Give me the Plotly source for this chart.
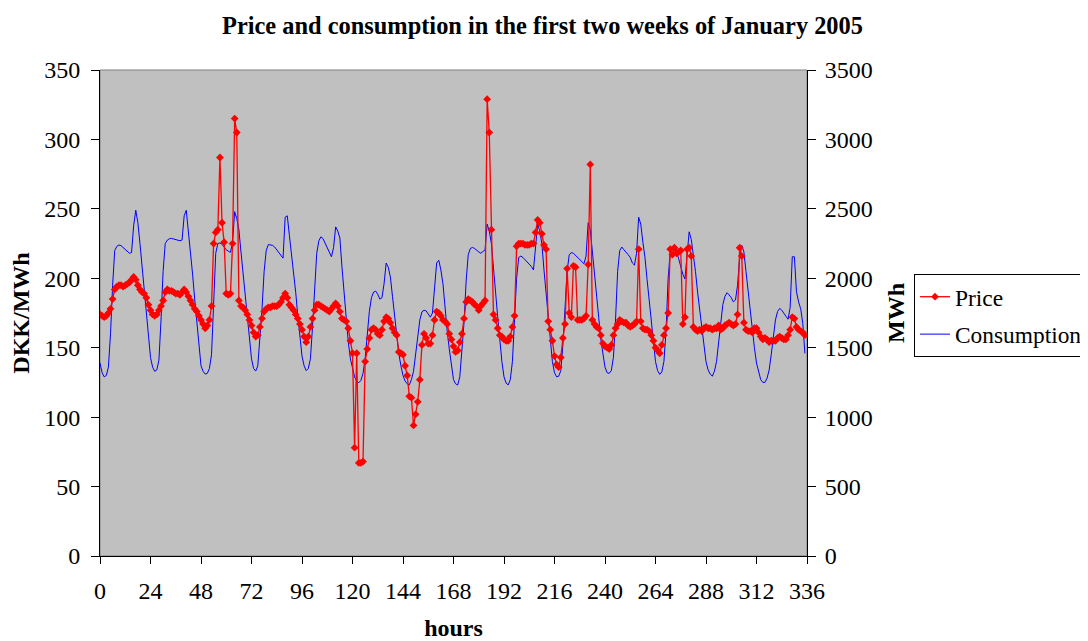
import plotly.graph_objects as go

# ---------------- data ----------------
hours = list(range(336))

price = [
    174, 173, 172, 173, 175, 178, 185, 192, 194, 195, 195, 194, 195, 196, 197, 199, 201, 199, 195, 192, 190, 189, 186, 181,
    177, 174, 173, 174, 177, 180, 184, 190, 192, 191, 191, 190, 189, 189, 188, 190, 192, 190, 187, 184, 181, 178, 176, 173,
    170, 167, 164, 166, 170, 180, 225, 233, 235, 287, 240, 226, 189, 188, 189, 225, 315, 305, 184, 180, 179, 177, 174, 170,
    166, 161, 158, 159, 165, 171, 176, 178, 179, 179, 180, 180, 180, 181, 183, 186, 189, 186, 181, 179, 177, 174, 171, 167,
    163, 158, 154, 158, 165, 171, 177, 181, 181, 180, 179, 178, 177, 176, 178, 180, 182, 180, 176, 171, 170, 169, 164, 155,
    146, 78, 146, 67, 67, 68, 140, 149, 157, 163, 164, 163, 160, 159, 163, 169, 172, 171, 168, 164, 161, 159, 147, 146,
    145, 137, 130, 115, 114, 94, 102, 111, 127, 152, 160, 157, 153, 153, 159, 170, 176, 175, 173, 170, 169, 167, 160, 156,
    151, 147, 148, 154, 160, 171, 183, 185, 184, 183, 181, 180, 177, 180, 182, 184, 329, 305, 235, 174, 170, 164, 159, 158,
    156, 155, 155, 158, 165, 173, 223, 225, 225, 225, 224, 224, 224, 225, 225, 233, 242, 240, 232, 224, 221, 169, 163, 155,
    144, 138, 136, 143, 157, 167, 207, 175, 172, 209, 208, 170, 170, 170, 171, 173, 210, 282, 170, 167, 165, 164, 159, 153,
    151, 150, 149, 152, 159, 164, 167, 170, 169, 168, 168, 166, 165, 166, 167, 169, 221, 169, 164, 163, 163, 162, 159, 155,
    150, 148, 146, 152, 159, 164, 175, 221, 217, 222, 218, 219, 220, 167, 172, 221, 222, 216, 165, 163, 162, 163, 162, 164,
    165, 164, 164, 163, 164, 164, 166, 163, 164, 166, 167, 168, 167, 166, 167, 174, 222, 216, 168, 163, 162, 162, 161, 164,
    164, 161, 158, 156, 157, 156, 154, 155, 155, 155, 157, 158, 157, 156, 156, 159, 163, 172, 171, 165, 163, 162, 161, 159,
]

consumption = [
    1390, 1320, 1290, 1300, 1360, 1600, 1950, 2200, 2230, 2240, 2235, 2220, 2205, 2190, 2180, 2185, 2380, 2490, 2400, 2250, 2080, 1900, 1730, 1560,
    1430, 1360, 1330, 1340, 1410, 1700, 2050, 2250, 2275, 2285, 2287, 2283, 2278, 2273, 2270, 2275, 2450, 2490, 2350, 2200, 2030, 1850, 1680, 1500,
    1370, 1330, 1310, 1315, 1350, 1450, 1800, 2180, 2250, 2255, 2245, 2225, 2205, 2195, 2187, 2260, 2480, 2430, 2350, 2190, 2030, 1870, 1690, 1530,
    1420, 1350, 1332, 1370, 1550, 1780, 2050, 2200, 2243, 2240, 2237, 2225, 2205, 2190, 2165, 2145, 2440, 2450, 2310, 2180, 2050, 1900, 1730, 1560,
    1440, 1370, 1335, 1350, 1420, 1650, 1915, 2180, 2270, 2299, 2285, 2255, 2225, 2190, 2155, 2220, 2370, 2340, 2290, 2080, 1880, 1700, 1540, 1420,
    1345, 1290, 1260, 1248, 1265, 1315, 1420, 1580, 1760, 1860, 1900, 1908, 1885, 1850, 1860, 1960, 2110, 2080, 2010, 1870, 1723, 1580, 1460, 1370,
    1300, 1260, 1240, 1232, 1270, 1330, 1450, 1570, 1700, 1759, 1770, 1765, 1745, 1720, 1750, 1915, 2110, 2130, 2060, 1960, 1780, 1620, 1490, 1380,
    1270, 1240, 1231, 1290, 1460, 1680, 1980, 2170, 2215, 2222, 2215, 2200, 2190, 2180, 2190, 2205, 2390, 2340, 2250, 2100, 1900, 1720, 1550, 1400,
    1290, 1245, 1232, 1270, 1400, 1675, 2000, 2150, 2160, 2150, 2135, 2115, 2100, 2085, 2060, 2200, 2390, 2340, 2250, 2060, 1890, 1720, 1540, 1400,
    1320, 1290, 1295, 1335, 1520, 1800, 2050, 2170, 2185, 2180, 2165, 2145, 2130, 2115, 2105, 2160, 2400, 2350, 2200, 2070, 1880, 1720, 1560, 1440,
    1360, 1320, 1315, 1335, 1430, 1700, 2050, 2200, 2225, 2205, 2190, 2170, 2150, 2110, 2095, 2180, 2440, 2390, 2260, 2150, 1990, 1840, 1680, 1520,
    1400, 1335, 1308, 1325, 1400, 1620, 2000, 2190, 2227, 2227, 2200, 2140, 2080, 2030, 1995, 2170, 2335, 2280, 2170, 2050, 1900, 1780, 1640, 1500,
    1400, 1340, 1310, 1295, 1330, 1400, 1530, 1700, 1810, 1870, 1896, 1880, 1860, 1830, 1843, 1950, 2150, 2237, 2190, 2050, 1900, 1760, 1620, 1500,
    1390, 1320, 1270, 1250, 1250, 1280, 1339, 1450, 1579, 1700, 1760, 1783, 1770, 1747, 1720, 1705, 1790, 2155, 2155, 1903, 1830, 1780, 1675, 1459,
]

x_ticks = [0, 24, 48, 72, 96, 120, 144, 168, 192, 216, 240, 264, 288, 312, 336]
price_ticks = [0, 50, 100, 150, 200, 250, 300, 350]
mwh_ticks = [0, 500, 1000, 1500, 2000, 2500, 3000, 3500]

TITLE = "Price and consumption in the first two weeks of January 2005"
FONT = "Liberation Serif"

# The page body has an 8 px margin, so the figure is 8 px smaller than the window.
W, H = 1080, 633
ML, MT = 92, 62
PLOT_W, PLOT_H = 707, 486

# ---------------- figure ----------------
fig = go.Figure()

# price on the overlaying (left) axis so its markers are drawn above the consumption line
fig.add_trace(go.Scatter(
    x=hours, y=price, name="Price", mode="lines+markers",
    line=dict(color="#FF0000", width=1.3),
    marker=dict(symbol="diamond", size=6, color="#FF0000"),
    yaxis="y2", legendgroup="a",
))
fig.add_trace(go.Scatter(
    x=hours, y=consumption, name="Consumption", mode="lines",
    line=dict(color="#0000FF", width=1),
    yaxis="y", legendgroup="b",
))

axis_common = dict(
    showline=True, linecolor="black", linewidth=1,
    ticks="outside", tickcolor="black", tickwidth=1,
    showgrid=False, zeroline=False,
    tickfont=dict(family=FONT, size=24, color="black"),
)

fig.update_layout(
    width=W, height=H,
    margin=dict(l=ML, r=W - ML - PLOT_W, t=MT, b=H - MT - PLOT_H, autoexpand=False),
    paper_bgcolor="white",
    plot_bgcolor="#C0C0C0",
    font=dict(family=FONT, size=24, color="black"),
    title=dict(
        text="<b>" + TITLE + "</b>",
        x=(542.5 - 8) / W, xanchor="center", xref="container",
        y=1 - 17 / H, yanchor="middle", yref="container",
        font=dict(family=FONT, size=24.4, color="black"),
    ),
    showlegend=True,
    legend=dict(
        x=(906 - ML) / PLOT_W, xanchor="left",
        y=(MT + PLOT_H - 266) / PLOT_H, yanchor="top",
        bgcolor="white", bordercolor="black", borderwidth=1,
        font=dict(family=FONT, size=23.4, color="black"),
        traceorder="grouped", tracegroupgap=4,
    ),
    xaxis=dict(
        range=[0, 336], tickmode="array", tickvals=x_ticks,
        ticktext=[str(v) for v in x_ticks],
        ticklen=7, ticklabelstandoff=6,
        title=dict(text="<b>hours</b>", standoff=31,
                   font=dict(family=FONT, size=24, color="black")),
        **axis_common,
    ),
    yaxis=dict(
        side="right", range=[0, 3500], tickmode="array", tickvals=mwh_ticks,
        ticklen=8, ticklabelstandoff=4,
        title=dict(text="<b>MWh</b>", standoff=15,
                   font=dict(family=FONT, size=24, color="black")),
        **axis_common,
    ),
    yaxis2=dict(
        overlaying="y", side="left", range=[0, 350], tickmode="array",
        tickvals=price_ticks, ticklen=8, ticklabelstandoff=6,
        title=dict(text="<b>DKK/MWh</b>", standoff=8,
                   font=dict(family=FONT, size=24, color="black")),
        **axis_common,
    ),
    shapes=[dict(
        type="rect", xref="paper", yref="paper", x0=0, x1=1, y0=0, y1=1,
        line=dict(color="#808080", width=1), layer="below",
    )],
)

fig.write_html("out.html")
